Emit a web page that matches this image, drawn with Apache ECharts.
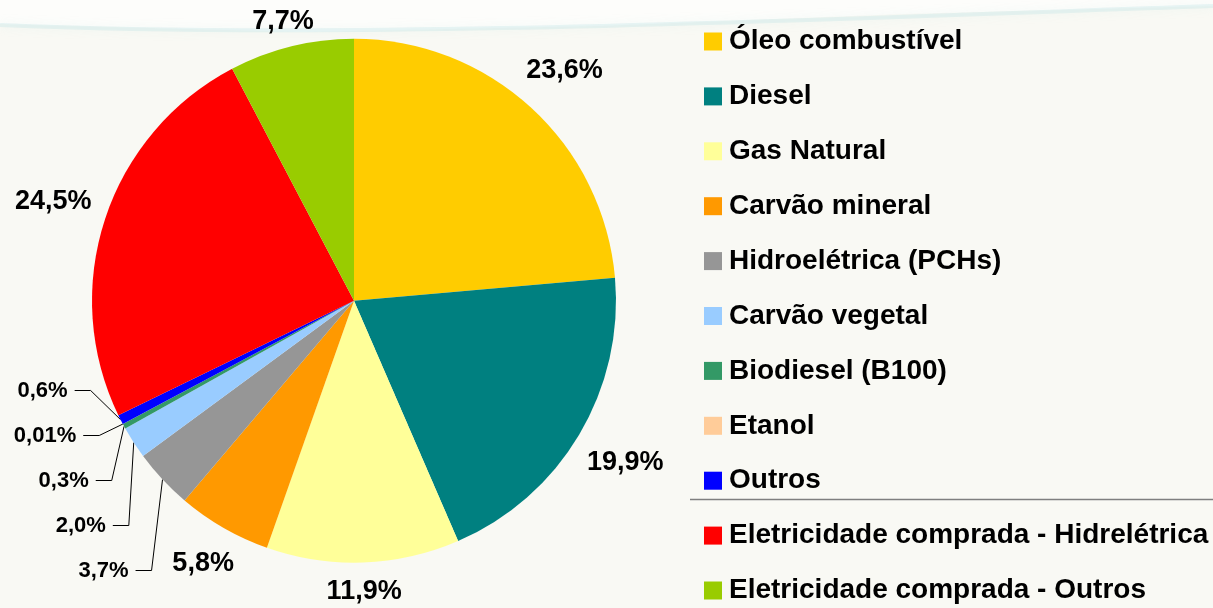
<!DOCTYPE html>
<html>
<head>
<meta charset="utf-8">
<script src="https://cdn.jsdelivr.net/npm/echarts@6/dist/echarts.min.js"></script>
<style>
  html, body { margin: 0; padding: 0; background: #f9f9f4; }
  #chart { width: 1213px; height: 608px; }
</style>
</head>
<body>
<div id="chart"></div>
<script>
// fontes de energia (%)
const names = [
  'Óleo combustível', 'Diesel', 'Gas Natural', 'Carvão mineral',
  'Hidroelétrica (PCHs)', 'Carvão vegetal', 'Biodiesel (B100)', 'Etanol',
  'Outros', 'Eletricidade comprada - Hidrelétrica', 'Eletricidade comprada - Outros'
]
const values = [23.6, 19.9, 11.9, 5.8, 3.7, 2.0, 0.3, 0.01, 0.6, 24.5, 7.7]
const colors = [
  '#ffcc00', '#008080', '#ffff99', '#ff9900', '#969696', '#99ccff',
  '#339966', '#ffcc99', '#0000ff', '#ff0000', '#99cc00'
]

const font = '"Liberation Sans", Arial, sans-serif'
const center = [354, 300.7]
const R = 262

function fmt(p) {
  const v = p.value
  return v.toFixed(v < 0.1 ? 2 : 1).replace('.', ',') + '%'
}

// empurra o rótulo para fora até ficar a uma distância fixa da borda da pizza
function placeOutside(p) {
  const r = p.labelRect
  const mx = r.x + r.width / 2
  const my = r.y + r.height / 2
  const dx = mx - center[0]
  const dy = my - center[1]
  const d = Math.hypot(dx, dy)
  const ux = dx / d
  const uy = dy / d
  const dist = R + 14 + Math.abs(ux) * r.width / 2 + Math.abs(uy) * r.height / 2
  let y = center[1] + uy * dist
  y = Math.max(y, r.height / 2 + 8)
  return { x: center[0] + ux * dist, y: y }
}

const chart = echarts.init(document.getElementById('chart'))

chart.setOption({
  animation: false,
  backgroundColor: '#f9f9f4',
  legend: {
    orient: 'vertical',
    left: 704,
    top: 27.5,
    height: 582,
    padding: 0,
    itemWidth: 18,
    itemHeight: 18,
    itemGap: 26.9,
    icon: 'rect',
    selectedMode: false,
    data: names,
    textStyle: {
      fontFamily: font,
      fontSize: 28,
      fontWeight: 'bold',
      color: '#000',
      lineHeight: 28,
      padding: [0, 0, 0, 2]
    }
  },
  graphic: [
    {
      // faixa clara do fundo
      type: 'polygon',
      z: -10,
      shape: { points: [[0, 0], [1213, 0], [1213, 6], [900, 14], [600, 26], [300, 32], [0, 24]] },
      style: { fill: '#fdfdfb' }
    },
    {
      type: 'bezierCurve',
      z: -9,
      shape: { x1: 0, y1: 25, cpx1: 350, cpy1: 40, cpx2: 800, cpy2: 20, x2: 1213, y2: 6 },
      style: { stroke: 'rgba(185,225,228,0.3)', lineWidth: 4, fill: null, shadowBlur: 10, shadowColor: 'rgba(185,225,228,0.6)' }
    },
    {
      type: 'line',
      shape: { x1: 690, y1: 499.5, x2: 1213, y2: 499.5 },
      style: { stroke: '#7f7f7f', lineWidth: 1.5 }
    }
  ],
  series: [
    {
      // fatias + rótulos pequenos com linhas de chamada
      type: 'pie',
      center: center,
      bottom: 15,
      radius: R,
      startAngle: 90,
      clockwise: true,
      silent: true,
      avoidLabelOverlap: true,
      data: names.map((n, i) => ({
        name: n,
        value: values[i],
        itemStyle: { color: colors[i] },
        label: { show: values[i] < 5 },
        labelLine: { show: values[i] < 5 }
      })),
      label: {
        position: 'outside',
        formatter: fmt,
        fontFamily: font,
        fontSize: 22,
        fontWeight: 'bold',
        color: '#000',
        lineHeight: 43,
        distanceToLabelLine: 7
      },
      labelLine: {
        length: 15,
        length2: 16,
        lineStyle: { color: '#000', width: 1 }
      }
    },
    {
      // rótulos grandes, só texto
      type: 'pie',
      center: center,
      radius: [295, 320],
      startAngle: 90,
      clockwise: true,
      silent: true,
      itemStyle: { color: 'transparent' },
      data: names.map((n, i) => ({
        name: n,
        value: values[i],
        label: { show: values[i] >= 5 }
      })),
      label: {
        position: 'inside',
        formatter: fmt,
        fontFamily: font,
        fontSize: 27,
        fontWeight: 'bold',
        color: '#000'
      },
      labelLine: { show: false },
      labelLayout: placeOutside
    }
  ]
})
</script>
</body>
</html>
